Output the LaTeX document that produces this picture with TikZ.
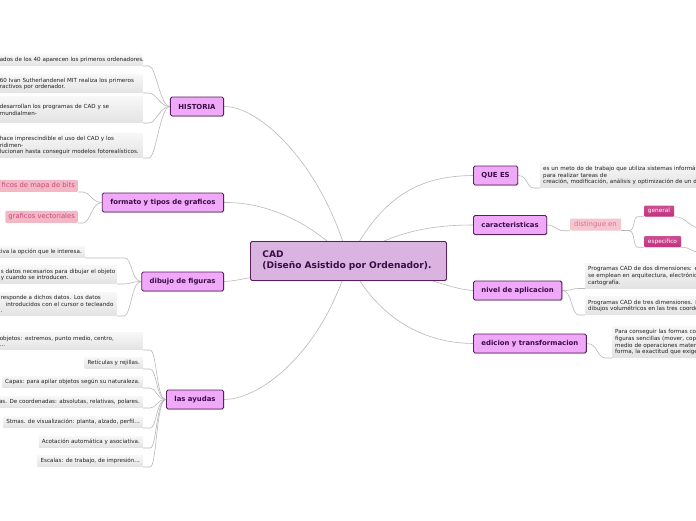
\documentclass[tikz,border=0pt]{standalone}
\usepackage{fontspec}
\setmainfont{DejaVu Sans}
\usetikzlibrary{shadows}
\definecolor{connc}{HTML}{B9B9B9}
\definecolor{topicfill}{HTML}{F0A8F8}
\definecolor{topicdraw}{HTML}{5A1F5E}
\definecolor{topictext}{HTML}{3A0D45}
\definecolor{centerfill}{HTML}{DAB4E0}
\definecolor{pinkfill}{HTML}{F3B7C6}
\definecolor{pinktext}{HTML}{C84A7E}
\definecolor{lpinkfill}{HTML}{F5C5D0}
\definecolor{lpinktext}{HTML}{D9738F}
\definecolor{magfill}{HTML}{C3307E}
\pgfdeclarelayer{bg}
\pgfsetlayers{bg,main}
\tikzset{
  topic/.style={draw=topicdraw, line width=0.9pt, fill=topicfill, rounded corners=1.5pt,
    minimum height=19pt, inner xsep=8pt, inner ysep=0pt,
    font=\fontsize{6.9}{8}\selectfont\bfseries, text=topictext,
    drop shadow={shadow xshift=0.6pt, shadow yshift=-0.8pt, opacity=0.35}},
  centernode/.style={draw=topicdraw, line width=0.9pt, fill=centerfill, rounded corners=1.5pt,
    minimum height=39pt, text width=172pt, inner xsep=12pt, align=left,
    font=\fontsize{9.1}{11}\selectfont\bfseries, text=topictext,
    drop shadow={shadow xshift=0.6pt, shadow yshift=-0.8pt, opacity=0.35}},
  leaf/.style={top color=black!3, bottom color=black!11, draw=none, inner xsep=3pt, inner ysep=3pt,
    font=\fontsize{5.6}{6.6}\selectfont, text=black!88, align=left,
    drop shadow={shadow xshift=0.4pt, shadow yshift=-0.6pt, opacity=0.12}},
  pinkleaf/.style={fill=pinkfill, rounded corners=1pt, inner xsep=3pt, inner ysep=2.5pt,
    minimum height=12pt, font=\fontsize{6.8}{8}\selectfont, text=pinktext},
  lpinkleaf/.style={fill=lpinkfill, rounded corners=1pt, inner xsep=2pt, inner ysep=2pt,
    minimum height=12pt, minimum width=51pt, font=\fontsize{6.9}{8}\selectfont, text=lpinktext},
  magleaf/.style={top color=magfill!85, bottom color=magfill, rounded corners=1pt, inner xsep=2pt, inner ysep=1pt,
    minimum height=11pt, font=\fontsize{5.8}{7}\selectfont, text=white,
    drop shadow={shadow xshift=0.4pt, shadow yshift=-0.6pt, opacity=0.2}},
  connector/.style={draw=connc, line width=0.6pt},
}
\begin{document}
\begin{tikzpicture}[x=1pt,y=-1pt]
\useasboundingbox (0,0) rectangle (696,520);
\begin{pgfonlayer}{bg}
\fill[white] (0,0) rectangle (696,520);
\end{pgfonlayer}

% center
\node[centernode, anchor=north west] (cad) at (250,241) {CAD\\(Diseño Asistido por Ordenador).};

% main topics
\node[topic, anchor=east] (historia) at (224,106.5) {HISTORIA};
\node[topic, anchor=east] (formato) at (224,202.5) {formato y tipos de graficos};
\node[topic, anchor=east] (dibujo) at (224,281.5) {dibujo de figuras};
\node[topic, anchor=east] (ayudas) at (224,399.5) {las ayudas};
\node[topic, anchor=west] (quees) at (473,175.5) {QUE ES};
\node[topic, anchor=west] (carac) at (473,225) {caracteristicas};
\node[topic, anchor=west] (nivel) at (473,290.5) {nivel de aplicacion};
\node[topic, anchor=west] (edicion) at (473,343.5) {edicion y transformacion};

% HISTORIA leaves
\node[leaf, anchor=south east, text width=140pt] (h1) at (143,66) {\mbox{ados de los 40 aparecen los primeros ordenadores.}};
\node[leaf, anchor=south east, text width=140pt] (h2) at (143,93) {\mbox{60 Ivan Sutherlandenel MIT realiza los primeros}\\\mbox{ractivos por ordenador.}};
\node[leaf, anchor=south east, text width=140pt, minimum height=26pt] (h3) at (143,123) {\mbox{desarrollan los programas de CAD y se}\\\mbox{mundialmen-}};
\node[leaf, anchor=south east, text width=140pt] (h4) at (143,158) {\mbox{hace imprescindible el uso del CAD y los}\\\mbox{ridimen-}\\\mbox{lucionan hasta conseguir modelos fotorealísticos.}};

% formato leaves
\node[pinkleaf, anchor=south east] (f1) at (78,192) {ficos de mapa de bits};
\node[pinkleaf, anchor=south east] (f2) at (78,223) {graficos vectoriales};

% dibujo leaves
\node[leaf, anchor=south east] (d1) at (85,258) {tiva la opción que le interesa.};
\node[leaf, anchor=south east, text width=113pt] (d2) at (117,284) {\mbox{s datos necesarios para dibujar el objeto}\\\mbox{y cuando se introducen.}};
\node[leaf, anchor=south east, text width=113pt] (d3) at (117,316) {\mbox{responde a dichos datos. Los datos}\\\mbox{\hspace*{5pt}introducidos con el cursor o tecleando}\\.};

% ayudas leaves
\node[leaf, anchor=south east, text width=140pt] (a1) at (143,350) {\mbox{objetos: extremos, punto medio, centro,}\\...};
\node[leaf, anchor=south east] (a2) at (143,369) {Retículas y rejillas.};
\node[leaf, anchor=south east] (a3) at (143,388) {Capas: para apilar objetos según su naturaleza.};
\node[leaf, anchor=south east] (a4) at (143,408) {as. De coordenadas: absolutas, relativas, polares.};
\node[leaf, anchor=south east] (a5) at (143,428) {Stmas. de visualización: planta, alzado, perfil...};
\node[leaf, anchor=south east] (a6) at (143,448) {Acotación automática y asociativa.};
\node[leaf, anchor=south east] (a7) at (143,467) {Escalas: de trabajo, de impresión...};

% right leaves
\node[leaf, anchor=south west, text width=200pt] (q1) at (540,188) {\mbox{es un meto do de trabajo que utiliza sistemas informát}\\para realizar tareas de\\\mbox{creación, modificación, análisis y optimización de un di}};
\node[lpinkleaf] (dist) at (595.5,224.5) {distingue en};
\node[magleaf, minimum width=30pt] (gen) at (659,211) {general};
\node[magleaf, minimum width=37pt] (esp) at (662.5,241.5) {especifico};
\coordinate (genend) at (700,228);
\coordinate (espend) at (700,252);
\node[leaf, anchor=south west, text width=200pt] (n1) at (585,288.5) {\mbox{Programas CAD de dos dimensiones: e}\\\mbox{se emplean en arquitectura, electrónic}\\cartografía.};
\node[leaf, anchor=south west, text width=200pt] (n2) at (585,315) {\mbox{Programas CAD de tres dimensiones. N}\\\mbox{dibujos volumétricos en las tres coorde}};
\node[leaf, anchor=south west, text width=200pt] (e1) at (612,358) {\mbox{Para conseguir las formas con}\\\mbox{figuras sencillas (mover, copia}\\\mbox{medio de operaciones matem}\\\mbox{forma, la exactitud que exige}};

\begin{pgfonlayer}{bg}
% center connectors
\draw[connector] (historia.east) .. controls (262,106) and (325,170) .. (cad.center);
\draw[connector] (formato.east) .. controls (270,202) and (315,225) .. (cad.center);
\draw[connector] (dibujo.east) .. controls (245,281) and (290,266) .. (cad.center);
\draw[connector] (ayudas.east) .. controls (265,399) and (325,345) .. (cad.center);
\draw[connector] (quees.west) .. controls (420,176) and (382,195) .. (cad.center);
\draw[connector] (carac.west) .. controls (430,225) and (390,232) .. (cad.center);
\draw[connector] (nivel.west) .. controls (450,290) and (400,266) .. (cad.center);
\draw[connector] (edicion.west) .. controls (420,343) and (375,315) .. (cad.center);
% left leaf connectors
\foreach \l in {h1,h2,h3,h4}
  \draw[connector] (historia.west) .. controls +(-10,0) and +(7,0) .. ([xshift=6pt]\l.south east) -- (\l.south east);
\foreach \l in {f1,f2}
  \draw[connector] (formato.west) .. controls +(-10,0) and +(7,0) .. ([xshift=5pt]\l.south east) -- (\l.south east);
\foreach \l in {d2,d3}
  \draw[connector] (dibujo.west) .. controls +(-10,0) and +(7,0) .. ([xshift=7pt]\l.south east) -- (\l.south east);
\draw[connector] (dibujo.west) .. controls +(-10,0) and +(7,0) .. ([xshift=40pt]d1.south east) -- (d1.south east);
\foreach \l in {a1,a2,a3,a4,a5,a6,a7}
  \draw[connector] (ayudas.west) .. controls +(-10,0) and +(7,0) .. ([xshift=7pt]\l.south east) -- (\l.south east);
% right leaf connectors
\draw[connector] (quees.east) .. controls +(10,0) and +(-8,0) .. ([xshift=-6pt]q1.south west) -- (q1.south west);
\draw[connector] (carac.east) .. controls +(8,0) and +(-8,0) .. ([xshift=-6pt]dist.south west) -- (dist.south west);
\draw[connector] (dist.south east) -- ++(8,0) coordinate (dfork);
\draw[connector] (dfork) .. controls +(6,0) and +(-5,0) .. ([xshift=-6pt]gen.south west) -- (gen.south west);
\draw[connector] (dfork) .. controls +(6,0) and +(-5,0) .. ([xshift=-6pt]esp.south west) -- (esp.south west);
\draw[connector] (gen.south east) .. controls +(12,0) and +(-10,0) .. (genend);
\draw[connector] (esp.south east) .. controls +(10,0) and +(-10,0) .. (espend);
\foreach \l in {n1,n2}
  \draw[connector] (nivel.east) .. controls +(10,0) and +(-8,0) .. ([xshift=-6pt]\l.south west) -- (\l.south west);
\draw[connector] (edicion.east) .. controls +(12,0) and +(-10,0) .. ([xshift=-6pt]e1.south west) -- (e1.south west);
\end{pgfonlayer}
\end{tikzpicture}
\end{document}
